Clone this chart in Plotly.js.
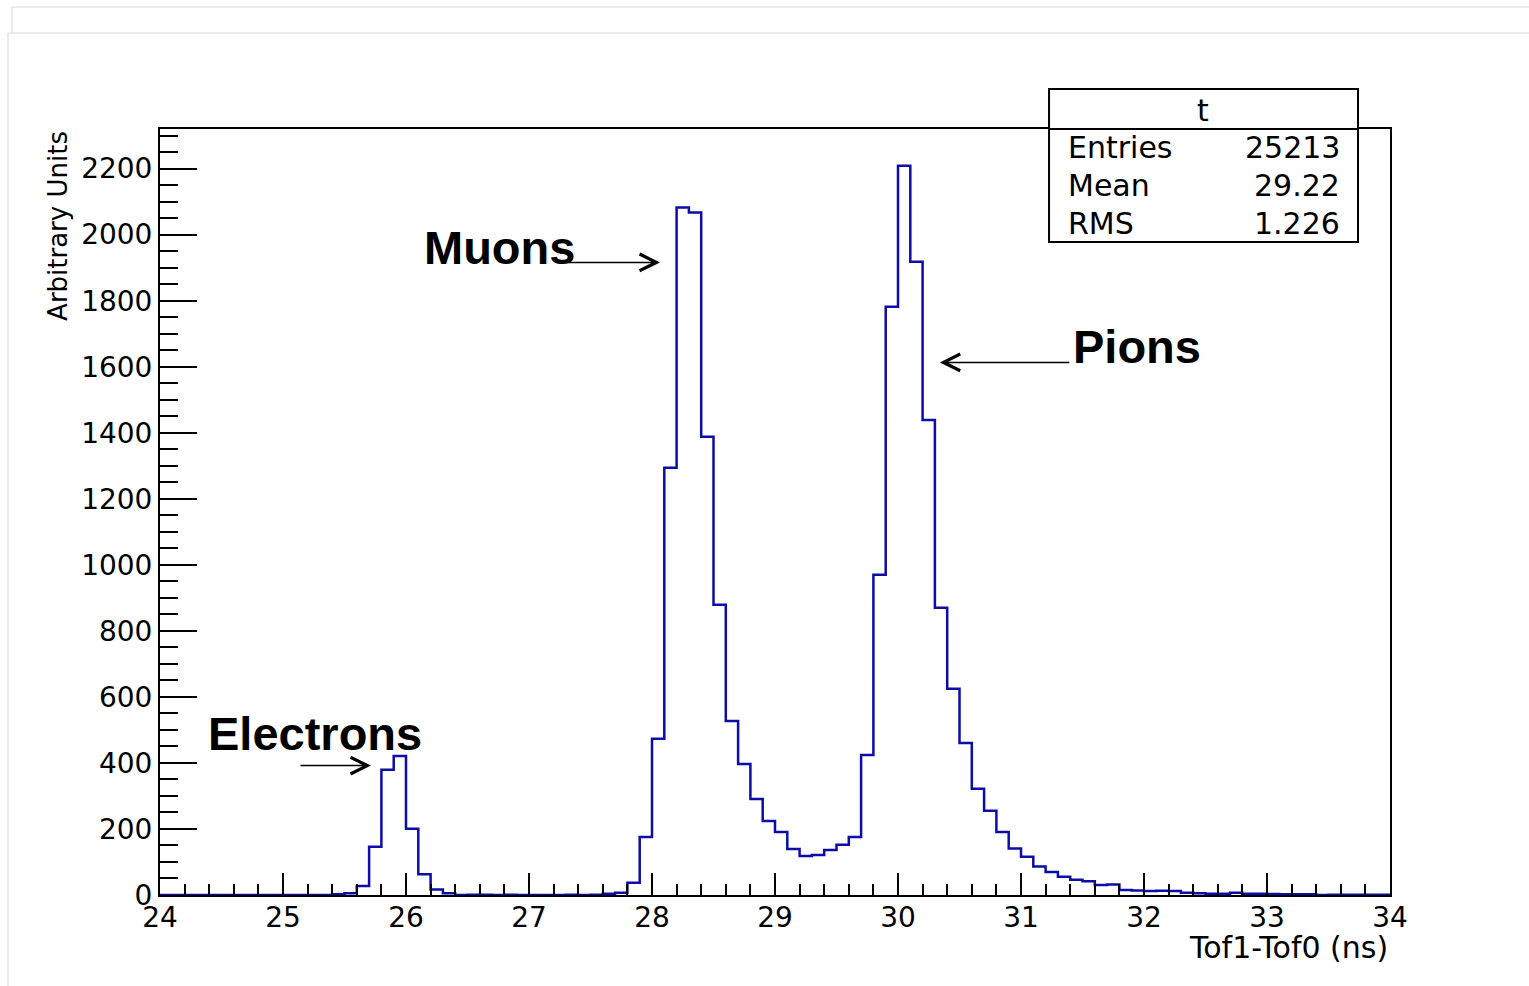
<!DOCTYPE html>
<html>
<head>
<meta charset="utf-8">
<script src="https://cdn.plot.ly/plotly-3.0.1.min.js"></script>
<style>html,body{margin:0;padding:0;background:#ffffff;}</style>
</head>
<body>
<div id="chart" style="width:1529px;height:986px;"></div>
<script>
// ---- data ----
const binLow = 24.0;
const binWidth = 0.1;
// bin contents, one per 0.1 ns bin from 24.0 to 34.0
const counts = [
  0, 0, 0, 0, 0, 0, 0, 0, 0, 0,          // 24.0 - 24.9
  0, 0, 0, 0, 2, 5, 27, 146, 379, 421,   // 25.0 - 25.9
  201, 63, 17, 5, 0, 1, 1, 0, 1, 0,      // 26.0 - 26.9
  0, 0, 0, 1, 0, 1, 4, 7, 37, 176,       // 27.0 - 27.9
  473, 1294, 2082, 2067, 1388, 879, 527, 397, 291, 224, // 28.0 - 28.9
  191, 139, 118, 121, 136, 152, 176, 424, 970, 1782,    // 29.0 - 29.9
  2209, 1918, 1439, 870, 625, 460, 322, 255, 191, 141,  // 30.0 - 30.9
  116, 86, 70, 55, 46, 42, 30, 32, 15, 14,              // 31.0 - 31.9
  12, 13, 12, 7, 5, 4, 4, 7, 4, 4,                      // 32.0 - 32.9
  3, 2, 2, 2, 0, 1, 1, 1, 1, 1                          // 33.0 - 33.9
];
const histName = 't';
const statNames = ['Entries', 'Mean', 'RMS'];
const statValues = ['25213', '29.22', '1.226'];
const particleLabels = ['Electrons', 'Muons', 'Pions'];
const xTitle = 'Tof1-Tof0 (ns)';
const yTitle = 'Arbitrary Units';

// ---- build step outline ----
const xs = [], ys = [];
for (let i = 0; i < counts.length; i++) {
  xs.push(+(binLow + i * binWidth).toFixed(3));
  ys.push(counts[i]);
}
xs.push(+(binLow + counts.length * binWidth).toFixed(3));
ys.push(counts[counts.length - 1]);

const FONT = 'DejaVu Sans, Liberation Sans, Arial, sans-serif';
const BOLD = 'Liberation Sans, Arial, Helvetica, sans-serif';

const trace = {
  type: 'scatter', mode: 'lines', x: xs, y: ys,
  line: {shape: 'hv', color: '#0c0ca8', width: 2.5},
  hoverinfo: 'x+y', showlegend: false
};

const annotations = [];
// particle labels
const boldFont = {family: BOLD, size: 47, color: '#000', weight: 'bold'};
annotations.push({x: 24.374, y: 489, xref: 'x', yref: 'y', xanchor: 'left', yanchor: 'middle',
  text: '<b>' + particleLabels[0] + '</b>', showarrow: false, font: boldFont});
annotations.push({x: 26.13, y: 1961, xref: 'x', yref: 'y', xanchor: 'left', yanchor: 'middle',
  text: '<b>' + particleLabels[1] + '</b>', showarrow: false, font: boldFont});
annotations.push({x: 31.407, y: 1662, xref: 'x', yref: 'y', xanchor: 'left', yanchor: 'middle',
  text: '<b>' + particleLabels[2] + '</b>', showarrow: false, font: boldFont});
// arrows
const arrowStyle = {text: '', showarrow: true, arrowhead: 5, arrowsize: 2.2, arrowwidth: 1.5,
  arrowcolor: '#000', standoff: 0, xref: 'x', yref: 'y'};
annotations.push(Object.assign({}, arrowStyle, {x: 25.715, y: 392, ax: -72, ay: 0}));
annotations.push(Object.assign({}, arrowStyle, {x: 28.065, y: 1916, ax: -100, ay: 0}));
annotations.push(Object.assign({}, arrowStyle, {x: 30.34, y: 1613, ax: 131, ay: 0}));
// axis titles
annotations.push({x: 1.0, y: -0.068, xref: 'paper', yref: 'paper', xanchor: 'right', yanchor: 'middle',
  text: xTitle, showarrow: false, font: {family: FONT, size: 30, color: '#000'}});
annotations.push({x: -0.083, y: 1.0, xref: 'paper', yref: 'paper', xanchor: 'center', yanchor: 'top',
  text: yTitle, textangle: -90, showarrow: false, font: {family: FONT, size: 26, color: '#000'}});
// stats box text
annotations.push({x: 0.848, y: 1.0248, xref: 'paper', yref: 'paper', xanchor: 'center', yanchor: 'middle',
  text: histName, showarrow: false, font: {family: FONT, size: 30, color: '#000'}});
const rowY = [0.9752, 0.9256, 0.876];
for (let i = 0; i < statNames.length; i++) {
  annotations.push({x: 0.7366, y: rowY[i], xref: 'paper', yref: 'paper', xanchor: 'left', yanchor: 'middle',
    text: statNames[i], showarrow: false, font: {family: FONT, size: 30, color: '#000'}});
  annotations.push({x: 0.961, y: rowY[i], xref: 'paper', yref: 'paper', xanchor: 'right', yanchor: 'middle',
    text: statValues[i], showarrow: false, font: {family: FONT, size: 30, color: '#000'}});
}

const shapes = [
  // light canvas border lines
  {type: 'line', xref: 'paper', yref: 'paper', x0: -0.1203, x1: 1.12, y0: 1.1593, y1: 1.1593, line: {color: '#e4e4e4', width: 1.5}},
  {type: 'line', xref: 'paper', yref: 'paper', x0: -0.1203, x1: -0.1203, y0: 1.1593, y1: 1.1253, line: {color: '#e4e4e4', width: 1.5}},
  {type: 'line', xref: 'paper', yref: 'paper', x0: -0.1236, x1: 1.12, y0: 1.1253, y1: 1.1253, line: {color: '#e4e4e4', width: 1.5}},
  {type: 'line', xref: 'paper', yref: 'paper', x0: -0.1236, x1: -0.1236, y0: 1.1253, y1: -0.13, line: {color: '#e4e4e4', width: 1.5}},
  // stats box
  {type: 'rect', xref: 'paper', yref: 'paper', x0: 0.7228, x1: 0.974, y0: 0.8525, y1: 1.0522,
    fillcolor: '#ffffff', line: {color: '#000', width: 2}, layer: 'above'},
  {type: 'line', xref: 'paper', yref: 'paper', x0: 0.7228, x1: 0.974, y0: 1.0, y1: 1.0,
    line: {color: '#000', width: 2}, layer: 'above'}
];

const axisCommon = {
  showgrid: false, zeroline: false, showline: true, linecolor: '#000', linewidth: 2,
  mirror: true, ticks: 'inside', tickcolor: '#000', tickwidth: 2,
  tickfont: {family: FONT, size: 28, color: '#000'}
};

const layout = {
  width: 1529, height: 986, autosize: false,
  paper_bgcolor: '#ffffff', plot_bgcolor: '#ffffff',
  margin: {l: 160, r: 139, t: 129, b: 91, pad: 0},
  showlegend: false,
  xaxis: Object.assign({}, axisCommon, {
    range: [24, 34], tick0: 24, dtick: 1, ticklen: 22, ticklabelstandoff: -4,
    minor: {dtick: 0.2, tick0: 24, ticklen: 11, tickwidth: 2, tickcolor: '#000', ticks: 'inside', showgrid: false}
  }),
  yaxis: Object.assign({}, axisCommon, {
    range: [0, 2320], tick0: 0, dtick: 200, ticklen: 37, tickformat: 'd',
    minor: {dtick: 50, tick0: 0, ticklen: 18, tickwidth: 2, tickcolor: '#000', ticks: 'inside', showgrid: false}
  }),
  annotations: annotations,
  shapes: shapes
};

Plotly.newPlot('chart', [trace], layout, {displayModeBar: false, staticPlot: true});
</script>
</body>
</html>
